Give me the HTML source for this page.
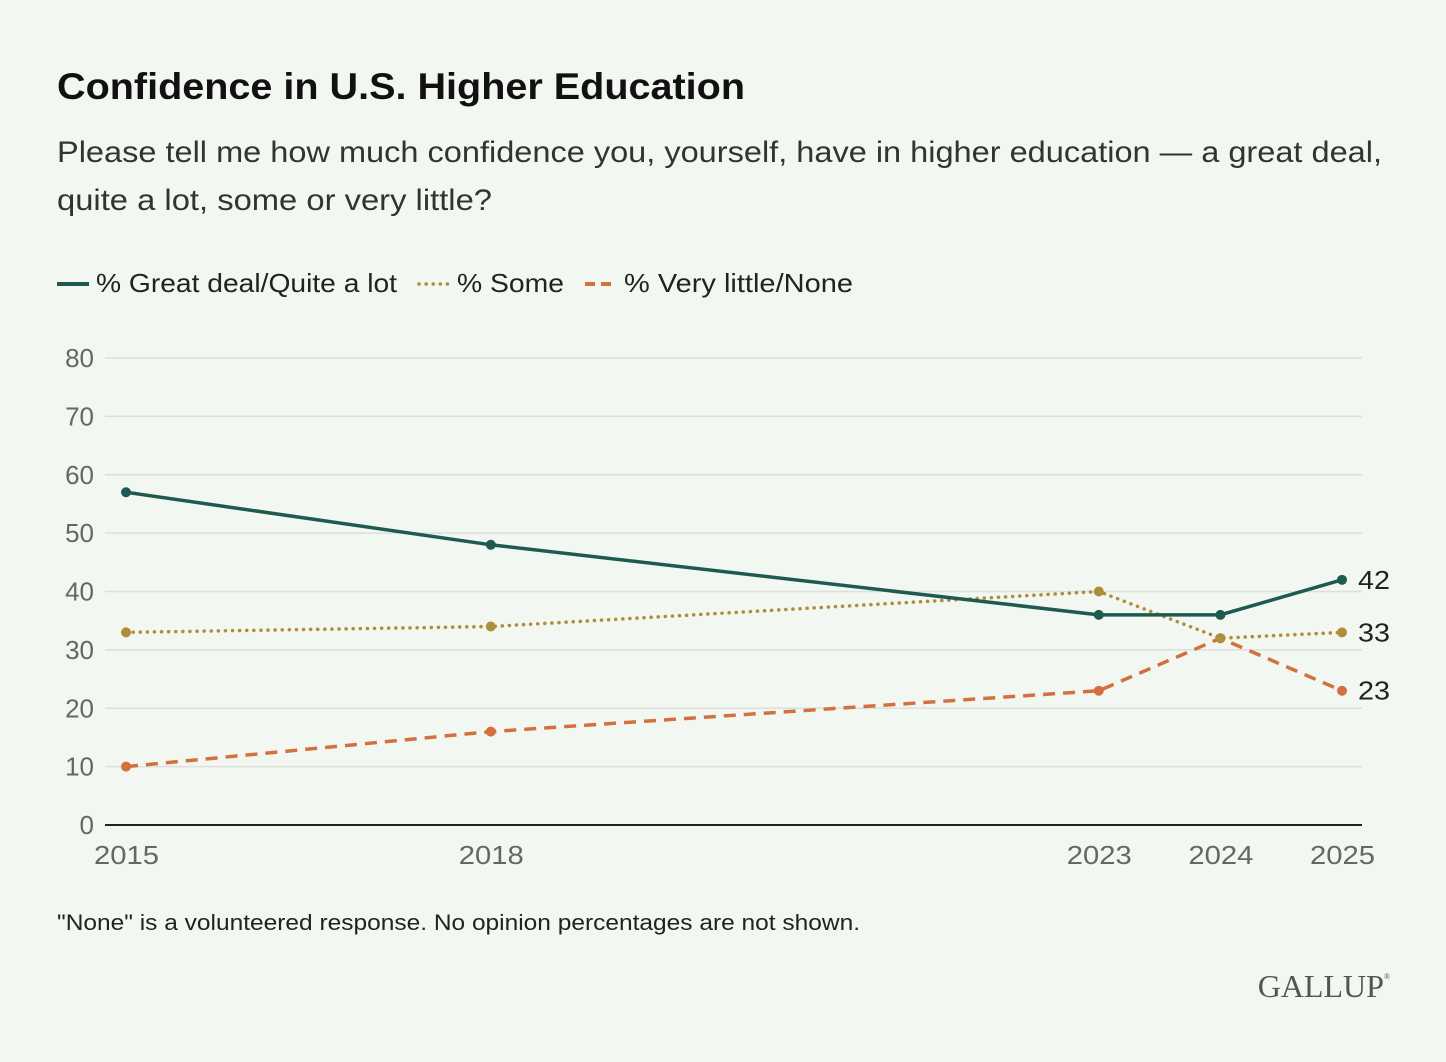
<!DOCTYPE html>
<html><head><meta charset="utf-8"><style>
body{margin:0;background:#f2f7f1;}
svg{display:block;font-family:"Liberation Sans",sans-serif;}
</style></head><body>
<svg id="chart" width="1446" height="1062" viewBox="0 0 1446 1062">
<rect width="1446" height="1062" fill="#f2f7f1"/>
<text x="57" y="99" font-size="37" font-weight="bold" fill="#111" textLength="688" lengthAdjust="spacingAndGlyphs">Confidence in U.S. Higher Education</text>
<text x="57" y="162" font-size="29.5" fill="#333" textLength="1325" lengthAdjust="spacingAndGlyphs">Please tell me how much confidence you, yourself, have in higher education — a great deal,</text>
<text x="57" y="210" font-size="29.5" fill="#333" textLength="435" lengthAdjust="spacingAndGlyphs">quite a lot, some or very little?</text>
<g>
<g><line x1="57" y1="284" x2="89" y2="284" stroke="#1f5a50" stroke-width="4"/><text x="96" y="292" font-size="26" fill="#222" textLength="301" lengthAdjust="spacingAndGlyphs">% Great deal/Quite a lot</text></g>
<g><line x1="419" y1="284" x2="451" y2="284" stroke="#b08d3b" stroke-width="3.5" stroke-dasharray="0.1 7" stroke-linecap="round"/><text x="457" y="292" font-size="26" fill="#222" textLength="107" lengthAdjust="spacingAndGlyphs">% Some</text></g>
<g><line x1="585" y1="284" x2="617" y2="284" stroke="#d4703f" stroke-width="4" stroke-dasharray="10 6"/><text x="624" y="292" font-size="26" fill="#222" textLength="229" lengthAdjust="spacingAndGlyphs">% Very little/None</text></g>
</g>
<g id="grid"></g>
<g id="series"></g>
<text x="57" y="930" font-size="22" fill="#222" textLength="803" lengthAdjust="spacingAndGlyphs">"None" is a volunteered response. No opinion percentages are not shown.</text>
<text x="1390" y="997" font-size="32" font-family="Liberation Serif,serif" fill="#555" text-anchor="end">GALLUP<tspan font-size="8" dy="-18">®</tspan></text>
</svg>
<script>
const years=[2015,2018,2023,2024,2025];
const greatDeal=[57,48,36,36,42];
const some=[33,34,40,32,33];
const veryLittle=[10,16,23,32,23];
const yTicks=[0,10,20,30,40,50,60,70,80];
const NS='http://www.w3.org/2000/svg';
function xs(y){return 126+(y-2015)*(1342-126)/10;}
function ys(v){return 825-v*(825-358)/80;}
function mk(tag,attrs,parent){const e=document.createElementNS(NS,tag);for(const k in attrs)e.setAttribute(k,attrs[k]);parent.appendChild(e);return e;}
const grid=document.getElementById('grid');
yTicks.forEach(t=>{
  const l=mk('line',{x1:105,x2:1362,y1:ys(t),y2:ys(t),stroke:t===0?'#222':'#dcdfdb','stroke-width':t===0?2:1.5},grid);
  
  
  const tx=mk('text',{x:94,y:ys(t)+9,'font-size':26,fill:'#666','text-anchor':'end'},grid);
  tx.textContent=t;
  
  
});
years.forEach(y=>{
  const tx=mk('text',{x:xs(y)-32,y:864,'font-size':26,fill:'#666',textLength:65,lengthAdjust:'spacingAndGlyphs'},grid);
  tx.textContent=y;
  
  
});
const ser=document.getElementById('series');
function draw(vals,color,dash,w,name){
  const g=mk('g',{},ser);
  
  
  const p=mk('polyline',{points:vals.map((v,i)=>xs(years[i])+','+ys(v)).join(' '),fill:'none',stroke:color,'stroke-width':w,'stroke-dasharray':dash,'stroke-linecap':dash==='0.1 7'?'round':'butt'},g);
  
  
  vals.forEach((v,i)=>{
    const c=mk('circle',{cx:xs(years[i]),cy:ys(v),r:5,fill:color},g);
    
    
  });
  const last=vals[vals.length-1];
  const t=mk('text',{x:1358,y:ys(last)+9,'font-size':26,fill:'#222',textLength:32,lengthAdjust:'spacingAndGlyphs'},g);
  t.textContent=last;
  
  
}
draw(veryLittle,'#d4703f','12 8',3.5,'very-little');
draw(some,'#b08d3b','0.1 7',3.5,'some');
draw(greatDeal,'#1f5a50','none',3.5,'great-deal');
</script>
</body></html>
